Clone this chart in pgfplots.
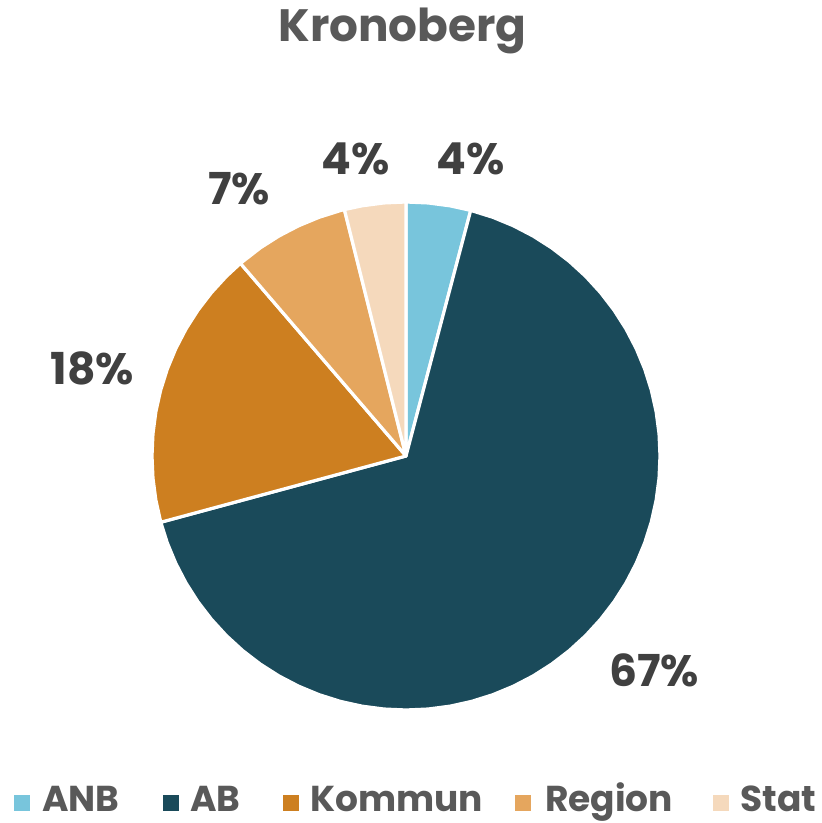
\documentclass[border=0pt]{standalone}
\usepackage{fontspec}
\setmainfont{Poppins}
\usepackage{pgfplots}
\pgfplotsset{compat=1.18}
\usepgfplotslibrary{polar}
\definecolor{cANB}{HTML}{78C5DC}
\definecolor{cAB}{HTML}{1A4A5A}
\definecolor{cKom}{HTML}{CD7F20}
\definecolor{cReg}{HTML}{E5A65E}
\definecolor{cStat}{HTML}{F5D9BC}
\definecolor{tgray}{HTML}{595959}
\definecolor{lgray}{HTML}{404040}
\begin{document}
\begin{tikzpicture}[x=0.75pt,y=0.75pt]
\path[use as bounding box] (0,0) rectangle (821,823);
\begin{axis}[
  at={(304.5pt,275.25pt)}, anchor=center,
  scale only axis, width=381pt, height=381pt,
  xmin=-1, xmax=1, ymin=-1, ymax=1,
  hide axis, clip=false,
  data cs=polar,
]
% ANB 4.1%
\addplot[fill=cANB, draw=white, line width=2.4pt, line join=round] coordinates {
(0,0) (90,1) (85,1) (80,1) (75.24,1)} -- cycle;
% AB 66.7%
\addplot[fill=cAB, draw=white, line width=2.4pt, line join=round] coordinates {
(0,0) (75.24,1) (70,1) (65,1) (60,1) (55,1) (50,1) (45,1) (40,1) (35,1) (30,1)
(25,1) (20,1) (15,1) (10,1) (5,1) (0,1) (-5,1) (-10,1) (-15,1) (-20,1) (-25,1)
(-30,1) (-35,1) (-40,1) (-45,1) (-50,1) (-55,1) (-60,1) (-65,1) (-70,1) (-75,1)
(-80,1) (-85,1) (-90,1) (-95,1) (-100,1) (-105,1) (-110,1) (-115,1) (-120,1)
(-125,1) (-130,1) (-135,1) (-140,1) (-145,1) (-150,1) (-155,1) (-160,1) (-164.88,1)} -- cycle;
% Kommun 17.9%
\addplot[fill=cKom, draw=white, line width=2.4pt, line join=round] coordinates {
(0,0) (195.12,1) (190,1) (185,1) (180,1) (175,1) (170,1) (165,1) (160,1) (155,1)
(150,1) (145,1) (140,1) (135,1) (130.68,1)} -- cycle;
% Region 7.4%
\addplot[fill=cReg, draw=white, line width=2.4pt, line join=round] coordinates {
(0,0) (130.68,1) (125,1) (120,1) (115,1) (110,1) (105,1) (104.04,1)} -- cycle;
% Stat 3.9%
\addplot[fill=cStat, draw=white, line width=2.4pt, line join=round] coordinates {
(0,0) (104.04,1) (100,1) (95,1) (90,1)} -- cycle;
\end{axis}
% title
\node[anchor=base, text=tgray, font=\fontsize{34}{40}\selectfont\bfseries] at (402.5,781) {Kronoberg};
% data labels
\begin{scope}[every node/.style={anchor=base, text=lgray, font=\fontsize{33}{38}\selectfont\bfseries}]
\node at (471,648) {4\%};
\node at (356,648) {4\%};
\node at (239,618) {7\%};
\node at (92.5,438) {18\%};
\node at (654,136) {67\%};
\end{scope}
% legend
\begin{scope}[every node/.style={anchor=base west, text=tgray, font=\fontsize{27}{32}\selectfont\bfseries, inner sep=0pt}]
\fill[cANB] (14,12) rectangle (30,28);
\node at (42,12) {ANB};
\fill[cAB] (163,12) rectangle (179,28);
\node at (190,12) {AB};
\fill[cKom] (283,12) rectangle (299,28);
\node at (310,12) {Kommun};
\fill[cReg] (515,12) rectangle (531,28);
\node at (545,12) {Region};
\fill[cStat] (713,12) rectangle (729,28);
\node at (740,12) {Stat};
\end{scope}
\end{tikzpicture}
\end{document}
